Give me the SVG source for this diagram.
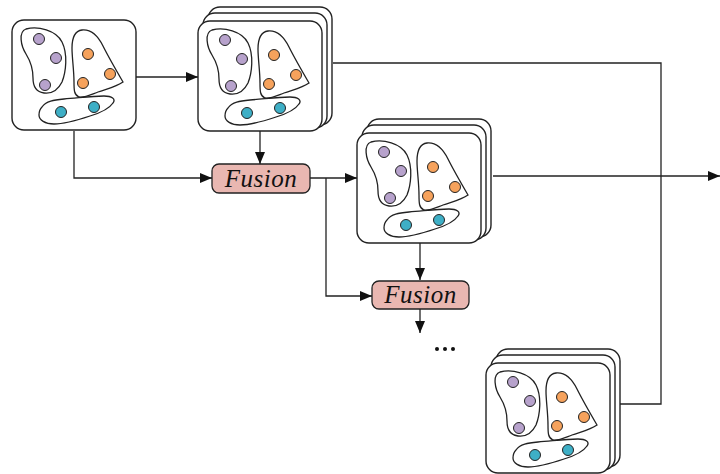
<svg xmlns="http://www.w3.org/2000/svg" xmlns:xlink="http://www.w3.org/1999/xlink" width="720" height="474" viewBox="0 0 720 474">
<style>
.card{fill:#fff;stroke:#222;stroke-width:1.4}
.blob{fill:none;stroke:#222;stroke-width:1.3}
.p{fill:#b7a2cc;stroke:#222;stroke-width:1}
.o{fill:#f6a25c;stroke:#222;stroke-width:1}
.t{fill:#3eafc6;stroke:#222;stroke-width:1}
.fus{fill:#e9b7b1;stroke:#222;stroke-width:1.3}
.ft{font-family:"Liberation Serif","Times New Roman",serif;font-style:italic;font-size:25px;letter-spacing:0.5px;fill:#111}
.conn{fill:none;stroke:#222;stroke-width:1.3}
</style>
<defs>
<marker id="ah" markerUnits="userSpaceOnUse" markerWidth="12" markerHeight="10" refX="12" refY="5" orient="auto">
<path d="M0,0 L12,5 L0,10 Z" fill="#111"/>
</marker>
<g id="cluster">
<rect class="card" x="0" y="0" width="124" height="110" rx="12"/>
<path class="blob" d="M14,9 C26,6 44,10 50,22 C56,34 54,52 50,62 C46,70 40,74 32,73 C24,72 21,66 21,58 C21,48 19,42 14,34 C9,26 6,12 14,9 Z"/>
<path class="blob" d="M70,10 C80,9 86,16 91,26 C97,38 104,50 111,62 C104,67 94,69 86,72 C78,75 72,78 67,77 C62,75 62,70 62,62 C62,50 60,38 60,28 C60,18 63,11 70,10 Z"/>
<path class="blob" d="M30,87 C34,81 42,80 52,79 C66,78 80,76 92,76 C100,76 104,79 101,83 C97,89 88,93 78,96 C66,100 54,104 42,104 C33,104 27,100 27,95 C27,92 28,89 30,87 Z"/>
<circle class="p" cx="27" cy="19" r="5.5"/>
<circle class="p" cx="44" cy="38" r="5.5"/>
<circle class="p" cx="33" cy="65" r="5.5"/>
<circle class="o" cx="76" cy="34" r="5.5"/>
<circle class="o" cx="98" cy="54" r="5.5"/>
<circle class="o" cx="71" cy="63" r="5.5"/>
<circle class="t" cx="49" cy="92" r="5.5"/>
<circle class="t" cx="82" cy="87" r="5.5"/>
</g>
<g id="backs">
<rect class="card" x="10" y="-14" width="124" height="118" rx="12"/>
<rect class="card" x="5" y="-8" width="124" height="115" rx="12"/>
</g>
</defs>

<g id="connectors">
<path class="conn" d="M135,77 H198" marker-end="url(#ah)"/>
<path class="conn" d="M74,131 V178 H212" marker-end="url(#ah)"/>
<path class="conn" d="M260,131 V164" marker-end="url(#ah)"/>
<path class="conn" d="M333,63 H661 V404 H619"/>
<path class="conn" d="M310,178 H357" marker-end="url(#ah)"/>
<path class="conn" d="M326,178 V296 H372" marker-end="url(#ah)"/>
<path class="conn" d="M420,242 V280" marker-end="url(#ah)"/>
<path class="conn" d="M493,176 H720" marker-end="url(#ah)"/>
<path class="conn" d="M420,309 V333" marker-end="url(#ah)"/>
</g>

<g id="input">
<use xlink:href="#cluster" transform="translate(12,20)"/>
</g>
<g id="stack1">
<use xlink:href="#backs" transform="translate(198,21)"/>
<use xlink:href="#cluster" transform="translate(198,21)"/>
</g>
<g id="fusion1">
<rect class="fus" x="212" y="164" width="98" height="29" rx="7"/>
<text class="ft" x="261" y="187" text-anchor="middle">Fusion</text>
</g>
<g id="stack2">
<use xlink:href="#backs" transform="translate(357,133)"/>
<use xlink:href="#cluster" transform="translate(357,133)"/>
</g>
<g id="fusion2">
<rect class="fus" x="372" y="281" width="97" height="28" rx="7"/>
<text class="ft" x="420.5" y="303" text-anchor="middle">Fusion</text>
</g>
<g id="ellipsis">
<circle cx="437" cy="349" r="2" fill="#111"/>
<circle cx="445" cy="349" r="2" fill="#111"/>
<circle cx="453" cy="349" r="2" fill="#111"/>
</g>
<g id="stack3">
<use xlink:href="#backs" transform="translate(486,363)"/>
<use xlink:href="#cluster" transform="translate(486,363)"/>
</g>
</svg>
